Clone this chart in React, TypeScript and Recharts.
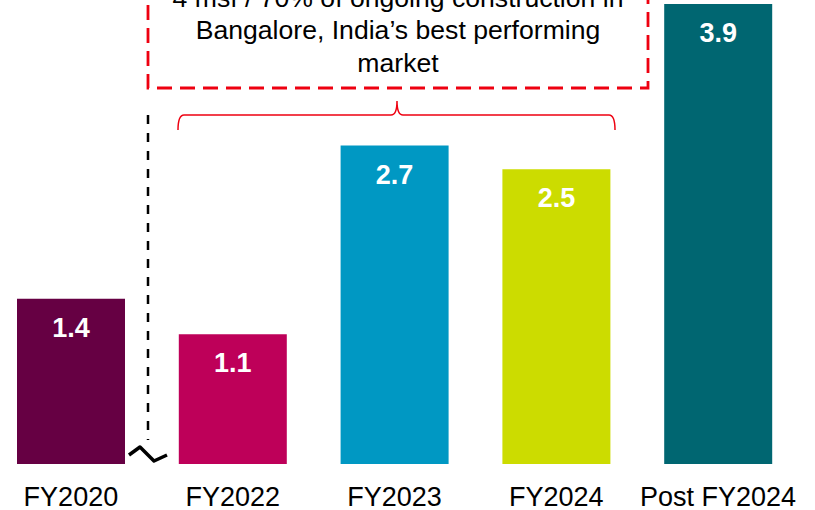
import React from "react";
import { BarChart, Bar, XAxis, YAxis, Cell, LabelList } from "recharts";

const categories = ["FY2020", "FY2022", "FY2023", "FY2024", "Post FY2024"];
const values = [1.4, 1.1, 2.7, 2.5, 3.9];
const barColors = ["#660043", "#BE0059", "#0098C3", "#CCDC00", "#006671"];
const noteLines = [
  "4 msf / 70% of ongoing construction in",
  "Bangalore, India\u2019s best performing",
  "market",
];

const data = categories.map((name, i) => ({ name, value: values[i] }));

const FONT = "Arial, 'Liberation Sans', sans-serif";
const RED = "#EE0010";

function Overlay() {
  return (
    <svg
      width={815}
      height={510}
      style={{ position: "absolute", left: 0, top: 0, pointerEvents: "none" }}
    >
      {/* red dashed callout box, top runs off the picture */}
      <rect
        x={148}
        y={-40}
        width={500}
        height={128}
        fill="none"
        stroke={RED}
        strokeWidth={2.8}
        strokeDasharray="15 8"
      />
      {noteLines.map((t, i) => (
        <text
          key={i}
          x={398}
          y={7 + i * 32.4}
          textAnchor="middle"
          fontFamily={FONT}
          fontSize={26.6}
          fill="#000"
        >
          {t}
        </text>
      ))}
      {/* curly brace over FY2022 - FY2024 */}
      <path
        d="M178,130 Q178,115 184,115 L391,115 Q397,115 397,101 Q397,115 403,115 L609,115 Q615,115 615,130"
        fill="none"
        stroke={RED}
        strokeWidth={1.5}
      />
      {/* axis break */}
      <line x1={148} y1={115} x2={148} y2={440} stroke="#000" strokeWidth={2.5} strokeDasharray="9 9" />
      <polyline
        points="129,455 140,447 154,461 167,455"
        fill="none"
        stroke="#000"
        strokeWidth={3.5}
        strokeLinejoin="round"
      />
    </svg>
  );
}

export default function App() {
  return (
    <div style={{ position: "absolute", left: 0, top: 0, width: 815, height: 510, fontFamily: FONT }}>
      <div style={{ position: "absolute", left: -10, top: 0 }}>
        <BarChart
          width={809}
          height={510}
          data={data}
          margin={{ top: 4, right: 0, bottom: 0, left: 0 }}
          barCategoryGap={0}
        >
          <XAxis
            dataKey="name"
            height={46}
            axisLine={false}
            tickLine={false}
            tickSize={0}
            tickMargin={23}
            interval={0}
            tick={{ fontSize: 27, fill: "#000", fontFamily: FONT }}
          />
          <YAxis hide domain={[0, 3.9]} />
          <Bar dataKey="value" barSize={108} isAnimationActive={false}>
            {data.map((d, i) => (
              <Cell key={d.name} fill={barColors[i]} />
            ))}
            <LabelList
              dataKey="value"
              position="insideTop"
              offset={19}
              fill="#fff"
              fontSize={27}
              fontWeight="bold"
              fontFamily={FONT}
              formatter={(v: number) => v.toFixed(1)}
            />
          </Bar>
        </BarChart>
      </div>
      <Overlay />
    </div>
  );
}
